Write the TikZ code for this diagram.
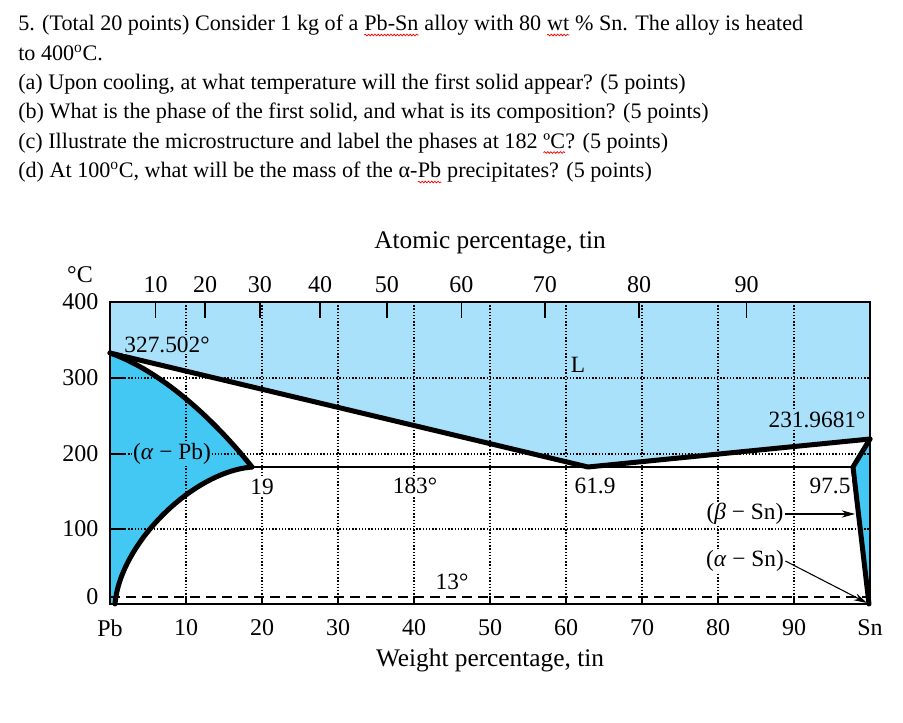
\documentclass[tikz,border=0pt]{standalone}
\usepackage{fontspec}
\setmainfont{Liberation Serif}
\usetikzlibrary{arrows.meta,decorations.pathmorphing}
\definecolor{liq}{RGB}{170,225,250}
\definecolor{sol}{RGB}{66,200,242}
\newcommand\squig[1]{\tikz[baseline=(sq.base)]{\node[anchor=base,inner sep=0pt,outer sep=0pt,draw=none,fill=none,text=black](sq){#1};\draw[red,line width=0.55pt,decorate,decoration={snake,amplitude=0.6pt,segment length=2.4pt}]([yshift=-3pt]sq.base west)--([yshift=-3pt]sq.base east);}}
\begin{document}
\begin{tikzpicture}[x=0.75pt,y=-0.75pt,
  qtext/.style={anchor=base west,inner sep=0pt,font=\fontsize{16.6}{19}\selectfont},
  lab/.style={inner sep=1pt,font=\fontsize{18}{21}\selectfont},
  ttl/.style={inner sep=1pt,font=\fontsize{19}{22}\selectfont},
  ilab/.style={inner sep=1pt,font=\fontsize{17.5}{21}\selectfont},
  bnd/.style={line width=3.75pt,line join=round,line cap=round},
  frm/.style={line width=2.2pt},
  grd/.style={line width=0.8pt,dash pattern=on 1.1pt off 1.3pt},
  tck/.style={line width=1.2pt},
  arr/.style={line width=0.8pt,-{Stealth[length=10pt,width=5.5pt]}}]
\useasboundingbox (0,0) rectangle (903,723);
% question text
\node[qtext] (q1) at (18,31) {5. (Total 20 points) Consider 1 kg of a \squig{Pb-Sn} alloy with 80 \squig{wt} \% Sn. The alloy is heated};
\node[qtext] (q2) at (18,61) {to 400\textsuperscript{o}C.};
\node[qtext] (qa) at (18,90) {(a) Upon cooling, at what temperature will the first solid appear? (5 points)};
\node[qtext] (qb) at (18,119) {(b) What is the phase of the first solid, and what is its composition? (5 points)};
\node[qtext] (qc) at (18,148.5) {(c) Illustrate the microstructure and label the phases at 182 \squig{ºC}? (5 points)};
\node[qtext] (qd) at (18,178) {(d) At 100\textsuperscript{o}C, what will be the mass of the α-\squig{Pb} precipitates? (5 points)};
% key points
\coordinate (pbm) at (110,353);
\coordinate (ae) at (252,467);
\coordinate (eu) at (588,467);
\coordinate (snm) at (870,439);
\coordinate (be) at (853,467);
\coordinate (a0) at (115,604);
\coordinate (b0) at (869,604);
\coordinate (btip) at (855,514);
\coordinate (atip) at (867,603);
% fills
\fill[liq] (110,302) -- (870,302) -- (snm) -- (eu) -- (pbm) -- cycle;
\fill[sol] (pbm) .. controls (160,370.5) and (212,417) .. (ae)
  .. controls (192,472) and (120,544) .. (a0) -- (110,604) -- cycle;
\fill[sol] (snm) -- (be) -- (b0) -- (870,604) -- cycle;
% grid
\foreach \w in {10,20,...,90}{
  \draw[grd] ({110+7.6*\w},302) -- ({110+7.6*\w},604);
  \draw[tck] ({110+7.6*\w},597) -- ({110+7.6*\w},604);
}
\foreach \yy in {378,454,529}{
  \draw[grd] (125,\yy) -- (870,\yy);
  \draw[tck] (110,\yy) -- (125,\yy);
}
\draw[line width=0.8pt,dash pattern=on 7.5pt off 4.5pt] (110,597) -- (870,597);
% atomic ticks
\foreach \a/\x in {10/155.5,20/205.2,30/259.8,40/320.0,50/386.8,60/461.3,70/544.8,80/639.1,90/746.6}{
  \draw[tck] (\x,302) -- (\x,318);
  \node[lab] (at\a) at (\x,285) {\a};
}
% boundaries
\draw[line width=2pt] (ae) -- (be);
\draw[bnd] (pbm) -- (eu) -- (snm);
\draw[bnd] (pbm) .. controls (160,370.5) and (212,417) .. (ae);
\draw[bnd] (ae) .. controls (192,472) and (120,544) .. (a0);
\draw[bnd] (snm) -- (be) -- (b0);
\draw[frm] (110,302) rectangle (870,604);
% axis labels
\node[lab] (degc) at (80,275) {°C};
\node[lab,anchor=east] (y400) at (100,302) {400};
\node[lab,anchor=east] (y300) at (100,378) {300};
\node[lab,anchor=east] (y200) at (100,454) {200};
\node[lab,anchor=east] (y100) at (100,529) {100};
\node[lab,anchor=east] (y0) at (100,597) {0};
\node[lab] (xpb) at (110,628) {Pb};
\foreach \w in {10,20,...,90}{
  \node[lab] (wl\w) at ({110+7.6*\w},628) {\w};
}
\node[lab] (xsn) at (870,628) {Sn};
\node[ttl] (atitle) at (490,243) {Atomic percentage, tin};
\node[ttl] (wtitle) at (490,660) {Weight percentage, tin};
% interior labels
\node[ilab,fill=liq] (t327) at (167,345) {327.502°};
\node[ilab] (tl) at (578,365) {L};
\node[ilab,fill=liq] (t231) at (817,420) {231.9681°};
\node[ilab,fill=sol] (apb) at (172,454) {(\textit{α} − Pb)};
\node[ilab,fill=white] (t19) at (262,487) {19};
\node[ilab,fill=white] (t183) at (415,486) {183°};
\node[ilab,fill=white] (t619) at (595,486) {61.9};
\node[ilab,fill=white] (t975) at (830,486) {97.5};
\node[ilab,fill=white] (bsn) at (745,514) {(\textit{β} − Sn)};
\node[ilab,fill=white] (asn) at (745,561) {(\textit{α} − Sn)};
\node[ilab,fill=white] (t13) at (452,582) {13°};
\draw[arr] (bsn.east) -- (btip);
\draw[arr] (asn.east) -- (atip);
\end{tikzpicture}
\end{document}
